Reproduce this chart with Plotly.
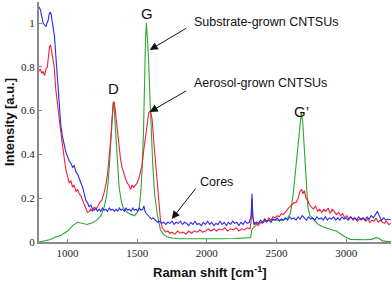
import plotly.graph_objects as go

# ---------------- data ----------------
substrate_shift = [795, 830, 870, 910, 950, 1000, 1036, 1072, 1110, 1140, 1179, 1210, 1240, 1263, 1280,
                   1295, 1310, 1320, 1328, 1336, 1346, 1358, 1370, 1385, 1398, 1420, 1440, 1460, 1480,
                   1500, 1515, 1525, 1535, 1545, 1554, 1560, 1566, 1572, 1580, 1590, 1600, 1612, 1625,
                   1643, 1667, 1690, 1714, 1750, 1800, 1900, 2000, 2100, 2200, 2300, 2315, 2322, 2340,
                   2370, 2400, 2450, 2500, 2550, 2580, 2600, 2620, 2640, 2655, 2668, 2678, 2688, 2700,
                   2713, 2725, 2740, 2772, 2800, 2832, 2870, 2900, 2930, 2960, 2990, 3030, 3080, 3140,
                   3180, 3215, 3240, 3260, 3290, 3320]
substrate_int = [0.0, 0.005, 0.01, 0.022, 0.03, 0.05, 0.075, 0.09, 0.085, 0.08, 0.088, 0.1, 0.12, 0.16, 0.21,
                 0.3, 0.45, 0.56, 0.64, 0.6, 0.49, 0.35, 0.25, 0.19, 0.16, 0.14, 0.13, 0.125, 0.12,
                 0.135, 0.16, 0.22, 0.33, 0.5, 0.8, 0.93, 1.0, 0.95, 0.86, 0.68, 0.52, 0.35, 0.22,
                 0.13, 0.055, 0.035, 0.024, 0.018, 0.015, 0.014, 0.014, 0.015, 0.016, 0.017, 0.02, 0.055, 0.07,
                 0.085, 0.09, 0.1, 0.1, 0.1, 0.11, 0.13, 0.22, 0.35, 0.46, 0.55, 0.59, 0.55, 0.43,
                 0.25, 0.16, 0.12, 0.1, 0.08, 0.07, 0.06, 0.055, 0.05, 0.035, 0.024, 0.012, 0.01, 0.01,
                 0.012, 0.02, 0.015, 0.005, 0.003, 0.002]

aerosol_shift = [795, 805, 815, 825, 835, 845, 855, 862, 870, 878, 886, 895, 904, 915, 928, 940, 952, 964,
                 976, 988, 1000, 1012, 1024, 1036, 1048, 1060, 1072, 1084, 1096, 1108, 1120, 1132, 1143,
                 1155, 1167, 1179, 1191, 1203, 1215, 1230, 1245, 1260, 1275, 1287, 1298, 1310, 1320,
                 1328, 1336, 1346, 1358, 1370, 1380, 1392, 1404, 1416, 1428, 1440, 1452, 1464, 1476,
                 1488, 1500, 1512, 1524, 1535, 1547, 1559, 1571, 1583, 1595, 1607, 1619, 1631, 1643,
                 1655, 1667, 1680, 1692, 1705, 1720, 1735, 1750, 1770, 1790, 1810, 1830, 1850, 1870,
                 1890, 1910, 1930, 1950, 1970, 1990, 2010, 2030, 2050, 2070, 2090, 2110, 2130, 2150,
                 2170, 2190, 2210, 2230, 2250, 2270, 2290, 2310, 2318, 2324, 2330, 2340, 2355, 2370,
                 2385, 2400, 2415, 2430, 2445, 2460, 2475, 2490, 2505, 2520, 2535, 2550, 2565, 2580,
                 2595, 2610, 2625, 2640, 2655, 2668, 2680, 2690, 2700, 2712, 2724, 2736, 2750, 2765,
                 2780, 2795, 2810, 2825, 2840, 2855, 2870, 2885, 2900, 2915, 2930, 2945, 2960, 2975,
                 2990, 3005, 3020, 3035, 3050, 3065, 3080, 3095, 3110, 3125, 3140, 3155, 3170, 3185,
                 3200, 3215, 3230, 3245, 3260, 3275, 3290, 3305, 3320]
aerosol_int = [0.78, 0.79, 0.77, 0.78, 0.76, 0.79, 0.80, 0.84, 0.89, 0.90, 0.87, 0.84, 0.80, 0.70, 0.62, 0.55, 0.50, 0.44,
               0.37, 0.33, 0.30, 0.27, 0.28, 0.25, 0.26, 0.23, 0.24, 0.22, 0.21, 0.19, 0.17, 0.15, 0.135,
               0.14, 0.15, 0.14, 0.16, 0.15, 0.16, 0.18, 0.19, 0.22, 0.26, 0.31, 0.38, 0.47, 0.57,
               0.63, 0.64, 0.58, 0.52, 0.44, 0.38, 0.34, 0.31, 0.29, 0.27, 0.26, 0.24, 0.26, 0.25,
               0.26, 0.27, 0.29, 0.32, 0.35, 0.42, 0.48, 0.54, 0.59, 0.60, 0.56, 0.46, 0.37, 0.25,
               0.16, 0.10, 0.065, 0.055, 0.045, 0.05, 0.04, 0.045, 0.035, 0.05, 0.04, 0.045, 0.035, 0.05,
               0.04, 0.05, 0.045, 0.055, 0.045, 0.05, 0.06, 0.05, 0.06, 0.05, 0.06, 0.055, 0.065, 0.05,
               0.06, 0.055, 0.065, 0.05, 0.06, 0.055, 0.065, 0.06, 0.1, 0.2, 0.12, 0.08, 0.085, 0.075,
               0.09, 0.085, 0.1, 0.09, 0.11, 0.1, 0.115, 0.11, 0.12, 0.115, 0.13, 0.125, 0.14, 0.15,
               0.16, 0.17, 0.18, 0.18, 0.2, 0.23, 0.24, 0.22, 0.235, 0.2, 0.19, 0.17, 0.16, 0.15,
               0.165, 0.14, 0.15, 0.135, 0.15, 0.14, 0.155, 0.13, 0.15, 0.14, 0.125, 0.135, 0.12, 0.13,
               0.11, 0.12, 0.105, 0.115, 0.1, 0.11, 0.095, 0.105, 0.1, 0.11, 0.095, 0.105, 0.09, 0.1,
               0.095, 0.11, 0.09, 0.1, 0.09, 0.085, 0.095, 0.08, 0.085]

cores_shift = [795, 805, 815, 825, 835, 845, 852, 860, 868, 875, 882, 890, 898, 906, 916, 928, 940, 952,
               964, 976, 988, 1000, 1012, 1024, 1036, 1048, 1060, 1072, 1084, 1096, 1108, 1120, 1131,
               1143, 1155, 1167, 1179, 1191, 1203, 1215, 1227, 1239, 1251, 1263, 1275, 1287, 1300,
               1312, 1324, 1336, 1348, 1360, 1372, 1384, 1396, 1408, 1420, 1432, 1444, 1456, 1468,
               1480, 1492, 1504, 1516, 1528, 1540, 1548, 1556, 1566, 1578, 1590, 1602, 1614, 1626,
               1638, 1650, 1662, 1675, 1690, 1705, 1720, 1735, 1750, 1765, 1780, 1795, 1810, 1825,
               1840, 1855, 1870, 1885, 1900, 1915, 1930, 1945, 1960, 1975, 1990, 2005, 2020, 2035,
               2050, 2065, 2080, 2095, 2110, 2125, 2140, 2155, 2170, 2185, 2200, 2215, 2230, 2245,
               2260, 2275, 2290, 2305, 2318, 2324, 2330, 2340, 2355, 2370, 2385, 2400, 2415, 2430,
               2445, 2460, 2475, 2490, 2505, 2520, 2535, 2550, 2565, 2580, 2595, 2610, 2625, 2640,
               2655, 2670, 2685, 2700, 2715, 2730, 2745, 2760, 2775, 2790, 2805, 2820, 2835, 2850,
               2865, 2880, 2895, 2910, 2925, 2940, 2955, 2970, 2985, 3000, 3015, 3030, 3045, 3060,
               3075, 3090, 3105, 3120, 3135, 3150, 3165, 3180, 3195, 3210, 3225, 3240, 3255, 3270,
               3285, 3300, 3320]
cores_int = [1.075, 1.06, 1.03, 1.0, 0.99, 0.985, 1.0, 1.01, 1.04, 1.05, 1.04, 1.0, 0.97, 0.94, 0.85, 0.73, 0.62, 0.53,
             0.48, 0.44, 0.41, 0.39, 0.37, 0.36, 0.34, 0.35, 0.32, 0.31, 0.29, 0.27, 0.25, 0.22, 0.19,
             0.18, 0.16, 0.17, 0.15, 0.145, 0.155, 0.14, 0.15, 0.14, 0.155, 0.145, 0.15, 0.14, 0.155,
             0.145, 0.15, 0.14, 0.15, 0.14, 0.155, 0.145, 0.15, 0.14, 0.155, 0.145, 0.15, 0.14, 0.155,
             0.145, 0.15, 0.14, 0.155, 0.145, 0.15, 0.165, 0.14, 0.13, 0.12, 0.115, 0.105, 0.11, 0.1,
             0.095, 0.09, 0.095, 0.085, 0.09, 0.08, 0.09, 0.085, 0.095, 0.08, 0.09, 0.085, 0.095, 0.08,
             0.09, 0.085, 0.075, 0.09, 0.08, 0.095, 0.08, 0.085, 0.075, 0.09, 0.08, 0.095, 0.08, 0.09,
             0.075, 0.085, 0.08, 0.095, 0.08, 0.09, 0.075, 0.09, 0.08, 0.095, 0.085, 0.09, 0.075, 0.09,
             0.08, 0.095, 0.085, 0.09, 0.12, 0.22, 0.11, 0.08, 0.09, 0.085, 0.1, 0.09, 0.105, 0.095,
             0.1, 0.09, 0.105, 0.1, 0.11, 0.095, 0.105, 0.1, 0.11, 0.1, 0.115, 0.105, 0.11, 0.1,
             0.115, 0.105, 0.12, 0.11, 0.1, 0.115, 0.105, 0.11, 0.1, 0.115, 0.105, 0.11, 0.1, 0.115,
             0.1, 0.11, 0.105, 0.115, 0.1, 0.11, 0.1, 0.115, 0.105, 0.11, 0.1, 0.115, 0.105, 0.11,
             0.1, 0.115, 0.105, 0.11, 0.1, 0.115, 0.105, 0.12, 0.11, 0.125, 0.14, 0.115, 0.1, 0.11,
             0.1, 0.105, 0.1]

x_ticks = [1000, 1500, 2000, 2500, 3000]
y_ticks = [0, 0.2, 0.4, 0.6, 0.8, 1]

# ---------------- figure ----------------
fig = go.Figure()
fig.add_trace(go.Scatter(x=substrate_shift, y=substrate_int, mode="lines",
                         line=dict(color="#2aa82a", width=1.1), name="Substrate-grown CNTSUs"))
fig.add_trace(go.Scatter(x=aerosol_shift, y=aerosol_int, mode="lines",
                         line=dict(color="#f0203c", width=1.1), name="Aerosol-grown CNTSUs"))
fig.add_trace(go.Scatter(x=cores_shift, y=cores_int, mode="lines",
                         line=dict(color="#2a2ae8", width=1.1), name="Cores"))

lab_font = dict(family="Liberation Sans, Arial", size=12.5, color="#111111")
peak_font = dict(family="Liberation Sans, Arial", size=15, color="#111111")
title_font = dict(family="Liberation Sans, Arial", size=13, color="#111111")
tick_font = dict(family="Liberation Serif", size=11, color="#222222")

annots = [
    dict(x=1333, y=0.70, text="D", showarrow=False, font=peak_font),
    dict(x=1569, y=1.045, text="G", showarrow=False, font=peak_font),
    dict(x=2680, y=0.594, text="G’", showarrow=False, font=peak_font),
    dict(x=1892, y=1.005, text="Substrate-grown CNTSUs", showarrow=False, xanchor="left", font=lab_font),
    dict(x=1892, y=0.726, text="Aerosol-grown CNTSUs", showarrow=False, xanchor="left", font=lab_font),
    dict(x=1935, y=0.274, text="Cores", showarrow=False, xanchor="left", font=lab_font),
    # axis titles (placed in paper coordinates)
    dict(xref="paper", yref="paper", x=0.486, y=-0.125, text="<b>Raman shift [cm<sup>-1</sup>]</b>",
         showarrow=False, font=title_font, xanchor="center", yanchor="middle"),
    dict(xref="paper", yref="paper", x=-0.085, y=0.5, text="<b>Intensity [a.u.]</b>",
         showarrow=False, font=title_font, textangle=-90, xanchor="center", yanchor="middle"),
]
arrows = [((1590, 0.877), (1862, 0.98)),
          ((1590, 0.594), (1862, 0.694)),
          ((1748, 0.105), (1928, 0.251))]
for (tip, tail) in arrows:
    annots.append(dict(x=tip[0], y=tip[1], ax=tail[0], ay=tail[1], xref="x", yref="y",
                       axref="x", ayref="y", text="", showarrow=True, arrowhead=2,
                       arrowsize=1.6, arrowwidth=1, arrowcolor="#111111"))

fig.update_layout(
    width=392, height=282,
    margin=dict(l=39, r=1, t=2, b=40, autoexpand=False),
    paper_bgcolor="white", plot_bgcolor="white",
    showlegend=False,
    annotations=annots,
    xaxis=dict(range=[795, 3322], tickvals=x_ticks, ticks="inside", ticklen=3, tickcolor="#808080",
               showline=True, linecolor="#8a8a8a", linewidth=2, showgrid=False, zeroline=False,
               automargin=False, tickfont=tick_font),
    yaxis=dict(range=[0, 1.096], tickvals=y_ticks, ticks="inside", ticklen=3, tickcolor="#808080",
               showline=True, linecolor="#8a8a8a", linewidth=2, showgrid=False, zeroline=False,
               automargin=False, tickfont=tick_font),
)

fig.write_html("out.html", config={"displayModeBar": False},
               post_script="document.body.style.margin='0';document.body.style.overflow='hidden';")
